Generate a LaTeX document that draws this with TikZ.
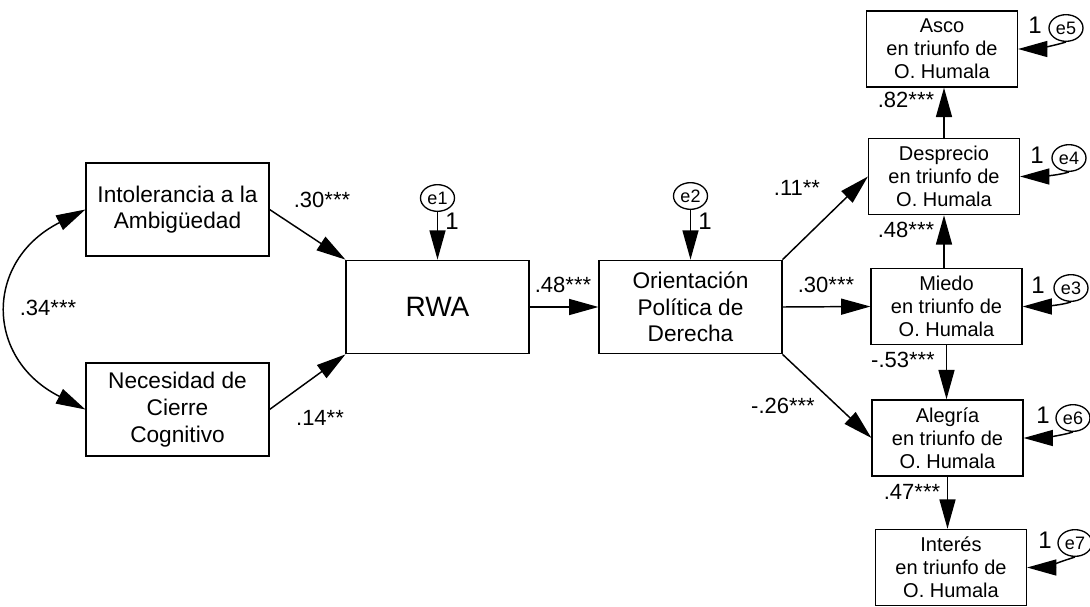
\documentclass[tikz,border=0pt]{standalone}
\usepackage{fontspec}
\setmainfont{Liberation Sans}
\usetikzlibrary{arrows.meta,shapes.geometric}

\tikzset{
  var/.style={draw, line width=1.1pt, align=center, inner sep=0pt},
  leftbox/.style={var, minimum width=137pt, minimum height=70pt, font=\fontsize{17}{20}\selectfont},
  rightbox/.style={var, minimum width=113pt, minimum height=57pt, font=\fontsize{15}{17.3}\selectfont},
  err/.style={draw, ellipse, line width=1pt, minimum width=25.5pt, minimum height=20pt, inner sep=0pt, font=\fontsize{13.5}{13.5}\selectfont},
  arr/.style={line width=1.1pt, -{Triangle[length=22pt,width=12pt]}},
  lab/.style={inner sep=0pt, font=\fontsize{16.5}{16.5}\selectfont},
  one/.style={inner sep=0pt, font=\fontsize{18}{18}\selectfont}
}

\begin{document}
\begin{tikzpicture}[x=0.75pt, y=-0.75pt]
	\useasboundingbox (0,0) rectangle (1090,607);

	% variables observadas
	\node[leftbox] (intol) at (177.5,209.5) {Intolerancia a la\\Ambigüedad};
	\node[leftbox] (cierre) at (177.5,409.5) {Necesidad de\\Cierre\\Cognitivo};
	\node[leftbox, font=\fontsize{21}{21}\selectfont] (rwa) at (437.5,307) {RWA};
	\node[leftbox] (orient) at (690.5,307) {Orientación\\Política de\\Derecha};

	\node[rightbox] (asco) at (942,49) {Asco\\en triunfo de\\O. Humala};
	\node[rightbox] (desprecio) at (944,176.5) {Desprecio\\en triunfo de\\O. Humala};
	\node[rightbox] (miedo) at (946.5,306.5) {Miedo\\en triunfo de\\O. Humala};
	\node[rightbox] (alegria) at (947.5,438) {Alegría\\en triunfo de\\O. Humala};
	\node[rightbox] (interes) at (951,567.5) {Interés\\en triunfo de\\O. Humala};

	% errores
	\node[err] (e1) at (437.5,198) {e1};
	\node[err] (e2) at (690.5,196) {e2};
	\node[err] (e5) at (1066,28) {e5};
	\node[err] (e4) at (1069,158) {e4};
	\node[err] (e3) at (1071,288) {e3};
	\node[err] (e6) at (1073,418) {e6};
	\node[err] (e7) at (1075,543) {e7};

	% trayectorias
	\draw[arr] (intol.east) -- (rwa.north west);
	\draw[arr] (cierre.east) -- (rwa.south west);
	\draw[line width=1.1pt, {Triangle[length=22pt,width=12pt]}-{Triangle[length=22pt,width=12pt]}]
		(intol.west) .. controls +(-101,51) and +(-101,-51) .. (cierre.west);
	\draw[arr] (rwa.east) -- (orient.west);
	\draw[arr] (orient.north east) -- (desprecio.west);
	\draw[arr] (orient.east) -- (miedo.west);
	\draw[arr] (orient.south east) -- (alegria.west);
	\draw[arr] (desprecio.north) -- (desprecio.north |- asco.south);
	\draw[arr] (desprecio.south |- miedo.north) -- (desprecio.south);
	\draw[arr] (miedo.south) -- (miedo.south |- alegria.north);
	\draw[arr] (alegria.south) -- (alegria.south |- interes.north);

	\draw[arr] (e1) -- (rwa);
	\draw[arr] (e2) -- (orient);
	\foreach \e/\v in {e5/asco, e4/desprecio, e3/miedo, e6/alegria, e7/interes}
		\draw[arr] (\e.south) .. controls +(-12,4) and +(14,0) .. (\v.east);

	% coeficientes
	\node[lab] (c1) at (322,200) {.30***};
	\node[lab] (c2) at (320,418) {.14**};
	\node[lab] (c3) at (48,308) {.34***};
	\node[lab] (c4) at (563,285) {.48***};
	\node[lab] (c5) at (797,188) {.11**};
	\node[lab] (c6) at (826,285) {.30***};
	\node[lab] (c7) at (783,406) {-.26***};
	\node[lab] (c8) at (906,100) {.82***};
	\node[lab] (c9) at (906,230) {.48***};
	\node[lab] (c10) at (903,360) {-.53***};
	\node[lab] (c11) at (912,492) {.47***};

	% pesos fijos
	\node[one] (w1) at (452,221) {1};
	\node[one] (w2) at (705,221) {1};
	\node[one] (w5) at (1035,25) {1};
	\node[one] (w4) at (1037,155) {1};
	\node[one] (w3) at (1038,285) {1};
	\node[one] (w6) at (1043,415) {1};
	\node[one] (w7) at (1045,540) {1};
\end{tikzpicture}
\end{document}
